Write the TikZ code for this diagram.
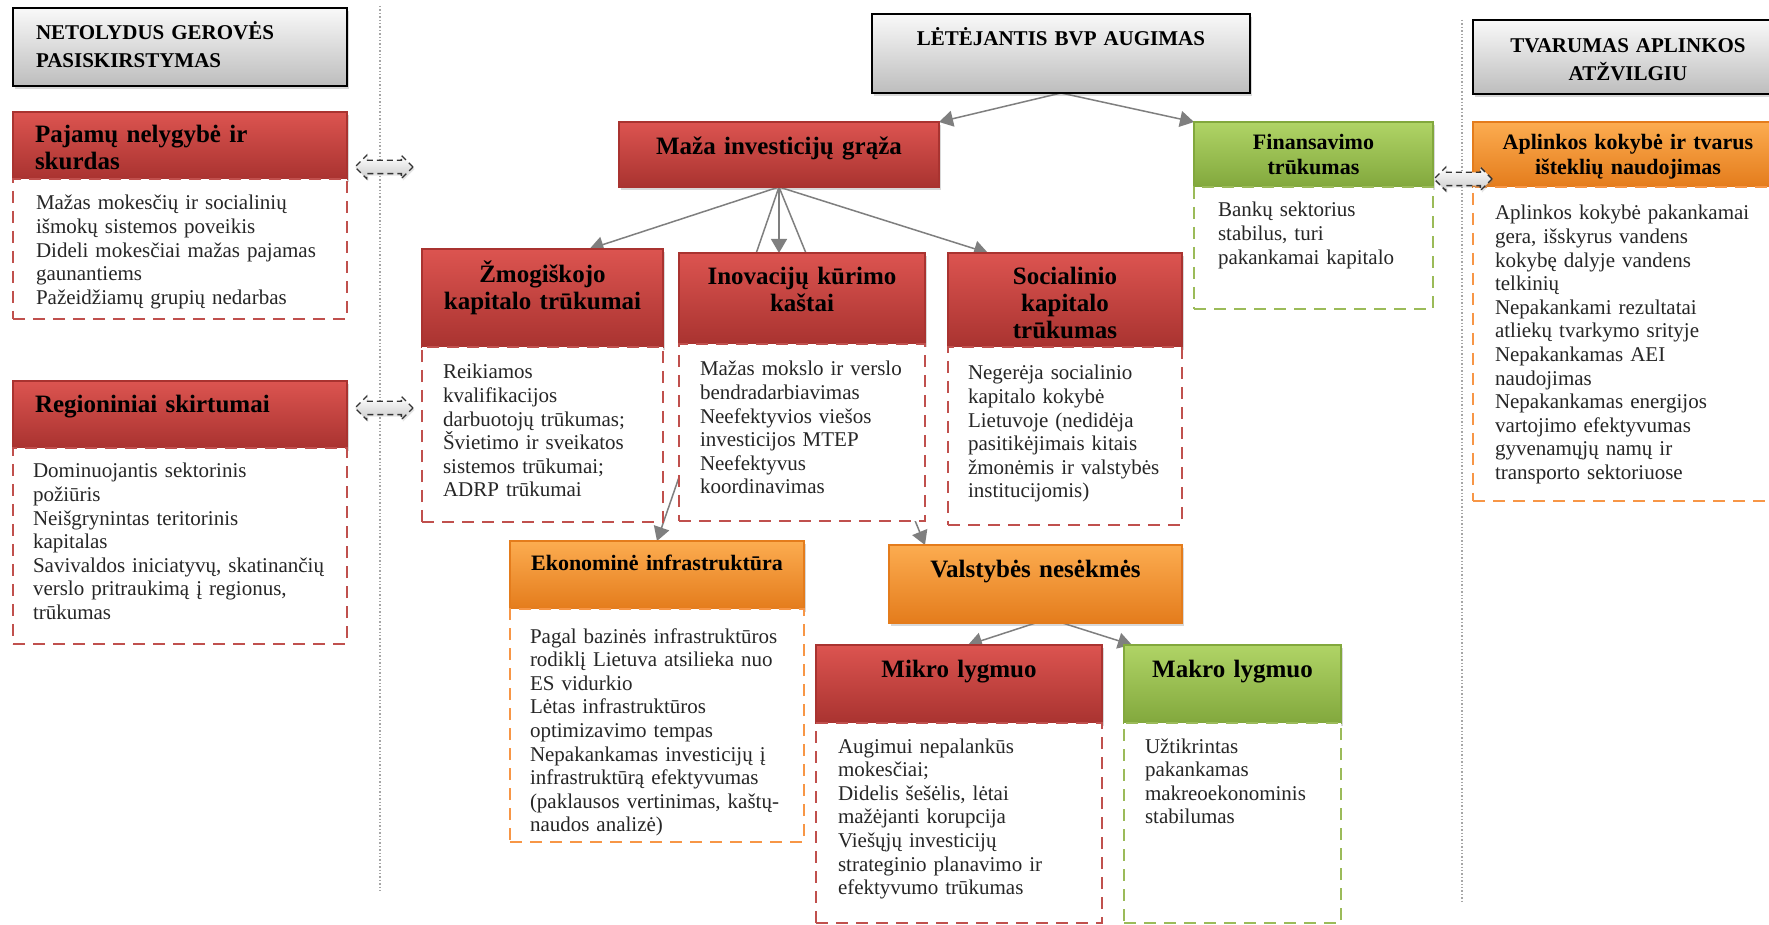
\documentclass[tikz,border=0pt]{standalone}
\usepackage{fontspec}
\setmainfont{Liberation Serif}
\usetikzlibrary{positioning}
\usetikzlibrary{calc}
\usetikzlibrary{arrows.meta}
\usetikzlibrary{shapes.arrows}
\usetikzlibrary{shadows}

\newlength{\pxunit}
\definecolor{redtop}{HTML}{DC5450}
\definecolor{redbot}{HTML}{A93330}
\definecolor{redline}{HTML}{C0504D}
\definecolor{orgtop}{HTML}{FCAC50}
\definecolor{orgbot}{HTML}{E47C1C}
\definecolor{orgline}{HTML}{F79646}
\definecolor{grntop}{HTML}{B0D466}
\definecolor{grnbot}{HTML}{82A83D}
\definecolor{grnline}{HTML}{9BBB59}
\definecolor{gretop}{HTML}{F9F9F9}
\definecolor{grebot}{HTML}{BDBDBD}
\definecolor{linkgray}{HTML}{7F7F7F}

\pgfdeclarelayer{bg}
\pgfsetlayers{bg,main}

\begin{document}
\begin{tikzpicture}[px unit/.code={\setlength{\pxunit}{#1}},px unit=0.5pt,x=\pxunit,y=-\pxunit,
  box/.style={rectangle,inner sep=0,outer sep=0,anchor=north west},
  title/.style={box,draw=black,line width=1pt,top color=gretop,bottom color=grebot,font=\fontsize{10.5}{14}\selectfont\bfseries,drop shadow={opacity=0.3,shadow xshift=1.2pt,shadow yshift=-1.5pt}},
  head/.style={box,line width=0.8pt,font=\fontsize{12.5}{13.3}\selectfont\bfseries,drop shadow={opacity=0.3,shadow xshift=1.2pt,shadow yshift=-1.5pt}},
  small/.style={font=\fontsize{11}{12.5}\selectfont\bfseries},
  red head/.style={head,draw=redbot,top color=redtop,bottom color=redbot},
  orange head/.style={head,draw=orgbot,top color=orgtop,bottom color=orgbot},
  green head/.style={head,draw=grnbot,top color=grntop,bottom color=grnbot},
  items/.style={rectangle,inner sep=0,outer sep=0,fill=white,line width=1.1pt,dash pattern=on 6pt off 4pt,align=left,text=black!85,font=\fontsize{10.5}{11.8}\selectfont},
  red items/.style={items,draw=redline},
  orange items/.style={items,draw=orgline},
  green items/.style={items,draw=grnline},
  link/.style={draw=linkgray,line width=0.75pt,-{Triangle[length=7pt,width=8pt]}},
  dbl/.style={double arrow,draw=black!80,densely dashed,line width=0.7pt,top color=white,bottom color=gray!40,minimum height=58\pxunit,inner xsep=0,inner ysep=6\pxunit,double arrow head extend=5\pxunit,drop shadow={opacity=0.2,shadow xshift=0.8pt,shadow yshift=-1pt}},
  sep/.style={draw=gray!70,densely dotted,line width=0.7pt}]
  \path[use as bounding box] (0,0) rectangle (1769,925);
  \clip (0,0) rectangle (1769,925);
  \node[title,minimum width=334\pxunit,text width=288\pxunit,align=left,text height=32\pxunit,text depth=46\pxunit] (netol) at (13,8) {NETOLYDUS GEROVĖS\\PASISKIRSTYMAS};
  \node[title,minimum width=378\pxunit,text width=340\pxunit,align=center,text height=32\pxunit,text depth=47\pxunit] (let) at (872,14) {LĖTĖJANTIS BVP AUGIMAS};
  \node[title,minimum width=310\pxunit,text width=290\pxunit,align=center,text height=33\pxunit,text depth=41\pxunit] (tvar) at (1473,20) {TVARUMAS APLINKOS\\ATŽVILGIU};
  \node[red head,minimum width=334\pxunit,text width=290\pxunit,align=left,text height=31\pxunit,text depth=36\pxunit] (paj) at (13,112) {Pajamų nelygybė ir\\skurdas};
  \node[red items,below=0pt of paj,minimum width=334\pxunit,text width=288\pxunit,text height=31\pxunit,text depth=109\pxunit] (pajitems) {Mažas mokesčių ir socialinių\\išmokų sistemos poveikis\\Dideli mokesčiai mažas pajamas\\gaunantiems\\Pažeidžiamų grupių nedarbas};
  \node[red head,minimum width=334\pxunit,text width=290\pxunit,align=left,text height=32\pxunit,text depth=35\pxunit] (reg) at (13,381) {Regioniniai skirtumai};
  \node[red items,below=0pt of reg,minimum width=334\pxunit,text width=294\pxunit,text height=30\pxunit,text depth=166\pxunit] (regitems) {Dominuojantis sektorinis\\požiūris\\Neišgrynintas teritorinis\\kapitalas\\Savivaldos iniciatyvų, skatinančių\\verslo pritraukimą į regionus,\\trūkumas};
  \node[red head,minimum width=320\pxunit,text width=300\pxunit,align=center,text height=33\pxunit,text depth=32\pxunit] (maza) at (619,122) {Maža investicijų grąža};
  \node[green head,small,minimum width=239\pxunit,text width=219\pxunit,align=center,text height=28\pxunit,text depth=37\pxunit] (fin) at (1194,122) {Finansavimo\\trūkumas};
  \node[green items,below=0pt of fin,minimum width=239\pxunit,text width=191\pxunit,text height=30\pxunit,text depth=92\pxunit] (finitems) {Bankų sektorius\\stabilus, turi\\pakankamai kapitalo};
  \node[orange head,small,minimum width=310\pxunit,text width=290\pxunit,align=center,text height=28\pxunit,text depth=37\pxunit] (apl) at (1473,122) {Aplinkos kokybė ir tvarus\\išteklių naudojimas};
  \node[orange items,below=0pt of apl,minimum width=310\pxunit,text width=266\pxunit,text height=33\pxunit,text depth=281\pxunit] (aplitems) {Aplinkos kokybė pakankamai\\gera, išskyrus vandens\\kokybę dalyje vandens\\telkinių\\Nepakankami rezultatai\\atliekų tvarkymo srityje\\Nepakankamas AEI\\naudojimas\\Nepakankamas energijos\\vartojimo efektyvumas\\gyvenamųjų namų ir\\transporto sektoriuose};
  \node[red head,minimum width=241\pxunit,text width=225\pxunit,align=center,text height=34\pxunit,text depth=64\pxunit] (zmog) at (422,249) {Žmogiškojo\\kapitalo trūkumai};
  \node[red items,below=0pt of zmog,minimum width=241\pxunit,text width=199\pxunit,text height=32\pxunit,text depth=143\pxunit] (zmogitems) {Reikiamos\\kvalifikacijos\\darbuotojų trūkumas;\\Švietimo ir sveikatos\\sistemos trūkumai;\\ADRP trūkumai};
  \node[red head,minimum width=246\pxunit,text width=230\pxunit,align=center,text height=32\pxunit,text depth=59\pxunit] (inov) at (679,253) {Inovacijų kūrimo\\kaštai};
  \node[red items,below=0pt of inov,minimum width=246\pxunit,text width=204\pxunit,text height=32\pxunit,text depth=145\pxunit] (inovitems) {Mažas mokslo ir verslo\\bendradarbiavimas\\Neefektyvios viešos\\investicijos MTEP\\Neefektyvus\\koordinavimas};
  \node[red head,minimum width=234\pxunit,text width=220\pxunit,align=center,text height=32\pxunit,text depth=62\pxunit] (soc) at (948,253) {Socialinio\\kapitalo\\trūkumas};
  \node[red items,below=0pt of soc,minimum width=234\pxunit,text width=194\pxunit,text height=33\pxunit,text depth=145\pxunit] (socitems) {Negerėja socialinio\\kapitalo kokybė\\Lietuvoje (nedidėja\\pasitikėjimais kitais\\žmonėmis ir valstybės\\institucijomis)};
  \node[orange head,small,minimum width=294\pxunit,text width=280\pxunit,align=center,text height=29\pxunit,text depth=39\pxunit] (ekon) at (510,541) {Ekonominė infrastruktūra};
  \node[orange items,below=0pt of ekon,minimum width=294\pxunit,text width=254\pxunit,text height=34\pxunit,text depth=199\pxunit] (ekonitems) {Pagal bazinės infrastruktūros\\rodiklį Lietuva atsilieka nuo\\ES vidurkio\\Lėtas infrastruktūros\\optimizavimo tempas\\Nepakankamas investicijų į\\infrastruktūrą efektyvumas\\(paklausos vertinimas, kaštų-\\naudos analizė)};
  \node[orange head,minimum width=293\pxunit,text width=270\pxunit,align=center,text height=32\pxunit,text depth=46\pxunit] (valst) at (889,545) {Valstybės nesėkmės};
  \node[red head,minimum width=286\pxunit,text width=270\pxunit,align=center,text height=32\pxunit,text depth=46\pxunit] (mikro) at (816,645) {Mikro lygmuo};
  \node[red items,below=0pt of mikro,minimum width=286\pxunit,text width=242\pxunit,text height=30\pxunit,text depth=170\pxunit] (mikroitems) {Augimui nepalankūs\\mokesčiai;\\Didelis šešėlis, lėtai\\mažėjanti korupcija\\Viešųjų investicijų\\strateginio planavimo ir\\efektyvumo trūkumas};
  \node[green head,minimum width=217\pxunit,text width=200\pxunit,align=center,text height=32\pxunit,text depth=46\pxunit] (makro) at (1124,645) {Makro lygmuo};
  \node[green items,below=0pt of makro,minimum width=217\pxunit,text width=175\pxunit,text height=30\pxunit,text depth=170\pxunit] (makroitems) {Užtikrintas\\pakankamas\\makreoekonominis\\stabilumas};
  \node[dbl] (dar1) at (384,167) {};
  \node[dbl] (dar2) at (384,408) {};
  \node[dbl] (dar3) at (1463,179) {};
  \coordinate (s1top) at (380,6);
  \coordinate (s1bot) at (380,891);
  \coordinate (s2top) at (1462,20);
  \coordinate (s2bot) at (1462,902);
  \begin{pgfonlayer}{bg}
    \fill[white] (0,0) rectangle (1769,925);
    \path[sep] (s1top) -- (s1bot);
    \path[sep] (s2top) -- (s2bot);
    \path[link] (let.south) -- (maza.north east);
    \path[link] (let.south) -- (fin.north west);
    \path[link] (maza.south) -- ($(zmog.north)+(47,0)$);
    \path[link] (maza.south) -- (maza.south |- inov.north);
    \path[link] (maza.south) -- ($(soc.north west)+(40,0)$);
    \path[link] (maza.south) -- (ekon.north);
    \path[link] (maza.south) -- ($(valst.north west)+(36,0)$);
    \path[link] (valst.south) -- ($(mikro.north)+(9,0)$);
    \path[link] ($(valst.south)+(27,0)$) -- ($(makro.north west)+(8,0)$);
  \end{pgfonlayer}
\end{tikzpicture}
\end{document}
